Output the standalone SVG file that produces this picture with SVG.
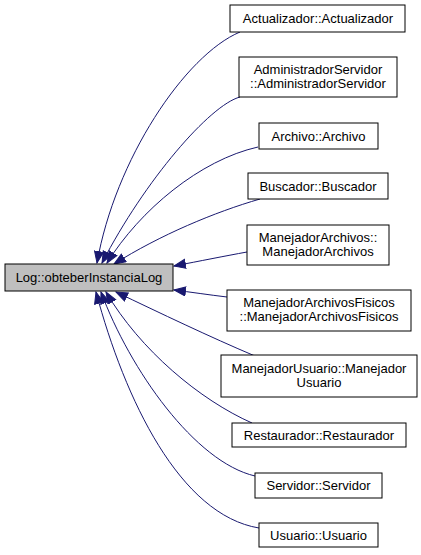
<svg xmlns="http://www.w3.org/2000/svg" width="421" height="555" viewBox="0 0 421 555">
<style>
rect{fill:#ffffff;stroke:#000000;stroke-width:1}
#log rect{fill:#bfbfbf;stroke:#000000}
text{font-family:"Liberation Sans",Arial,Helvetica,sans-serif;font-size:13px;text-anchor:middle;fill:#000000}
#edges path{fill:none;stroke:#191970;stroke-width:1}
</style>
<defs>
<marker id="ah" markerUnits="userSpaceOnUse" markerWidth="14" markerHeight="12" refX="12" refY="5" orient="auto">
<path d="M0.5,0.5 L12,5 L0.5,9.5 z" fill="#191970" stroke="#191970"/>
</marker>
</defs>
<rect x="0" y="0" width="421" height="555" style="fill:#ffffff;stroke:none"/>
<g id="edges">
<path marker-end="url(#ah)" d="M240,32 C185,55 115,160 97,263"/>
<path marker-end="url(#ah)" d="M240,97 C210,105 145,180 102,263"/>
<path marker-end="url(#ah)" d="M258,147 C200,160 140,210 107,263"/>
<path marker-end="url(#ah)" d="M260,199 C215,212 160,235 114,264"/>
<path marker-end="url(#ah)" d="M247,252 C225,256 200,261 174,266"/>
<path marker-end="url(#ah)" d="M227,297 C210,295 190,292 174,290"/>
<path marker-end="url(#ah)" d="M255,356 C210,337 160,313 116,292"/>
<path marker-end="url(#ah)" d="M252,423 C200,400 140,350 106,292"/>
<path marker-end="url(#ah)" d="M255,476 C195,462 130,370 101,292"/>
<path marker-end="url(#ah)" d="M259,528 C180,515 125,400 96,292"/>
</g>
<g id="log"><rect x="5" y="264" width="168" height="27"/><text x="89" y="282">Log::obteberInstanciaLog</text></g>
<g id="n1"><rect x="230" y="5" width="175" height="27"/><text x="318" y="23">Actualizador::Actualizador</text></g>
<g id="n2"><rect x="239" y="57" width="158" height="40"/><text x="318" y="74">AdministradorServidor</text><text x="318" y="88">::AdministradorServidor</text></g>
<g id="n3"><rect x="259" y="123" width="119" height="26"/><text x="318.5" y="140.5">Archivo::Archivo</text></g>
<g id="n4"><rect x="248" y="173" width="140" height="26"/><text x="318" y="190.5">Buscador::Buscador</text></g>
<g id="n5"><rect x="247" y="225" width="142" height="40"/><text x="318" y="242">ManejadorArchivos::</text><text x="318" y="256">ManejadorArchivos</text></g>
<g id="n6"><rect x="227" y="290" width="184" height="41"/><text x="319" y="307">ManejadorArchivosFisicos</text><text x="319" y="321">::ManejadorArchivosFisicos</text></g>
<g id="n7"><rect x="221" y="355" width="196" height="42"/><text x="319" y="373">ManejadorUsuario::Manejador</text><text x="319" y="387">Usuario</text></g>
<g id="n8"><rect x="232" y="423" width="174" height="24"/><text x="319" y="439.5">Restaurador::Restaurador</text></g>
<g id="n9"><rect x="255" y="473" width="127" height="25"/><text x="318.5" y="490">Servidor::Servidor</text></g>
<g id="n10"><rect x="259" y="523" width="119" height="24"/><text x="318.5" y="539.5">Usuario::Usuario</text></g>
</svg>
